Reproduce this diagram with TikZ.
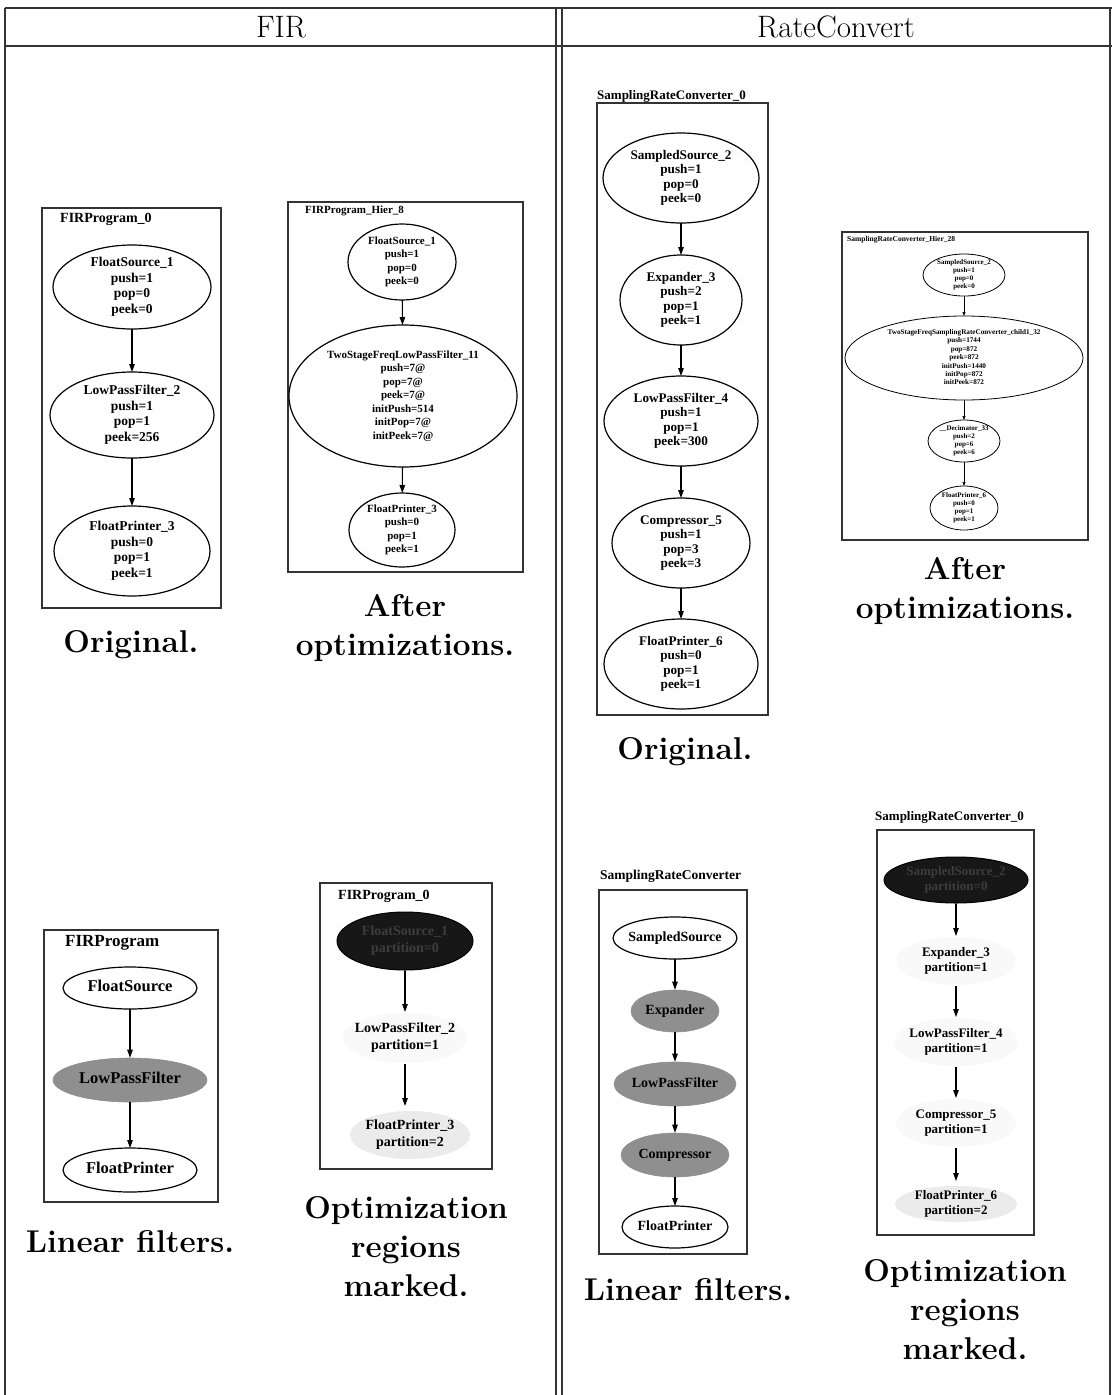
\documentclass[tikz,border=0pt]{standalone}
\usepackage{fontspec}
\newfontfamily\gvfont{Liberation Serif}
\usetikzlibrary{shapes.geometric,arrows.meta}
\newcommand\ml[1]{\smash{\raisebox{-0.25em}{\makebox[0pt]{\begin{tabular}{@{}c@{}}#1\end{tabular}}}}}
\newcommand\fs[2]{\fontsize{#1}{#2}\selectfont}
\definecolor{tabline}{gray}{0.2}
\definecolor{midfill}{gray}{0.56}
\definecolor{darkfill}{gray}{0.09}
\definecolor{darktext}{gray}{0.24}
\definecolor{lightfill}{gray}{0.92}
\definecolor{paleflll}{gray}{0.975}
\tikzset{
  ell/.style={ellipse, draw=black, line width=1.2pt, inner sep=0pt, outer sep=0pt},
  rad/.style 2 args={minimum width={2*(#1)*1pt}, minimum height={2*(#2)*1pt}},
  fnt/.style 2 args={font=\gvfont\bfseries\fontsize{#1}{#2}\selectfont},
  grayell/.style={ellipse, draw=midfill, fill=midfill, line width=0.6pt, inner sep=0pt},
  darkell/.style={ellipse, draw=black, fill=darkfill, text=darktext, line width=1pt, inner sep=0pt},
  lightell/.style={ellipse, fill=lightfill, inner sep=0pt, outer sep=5pt},
  paleell/.style={ellipse, fill=paleflll, inner sep=0pt, outer sep=1pt},
  arr/.style={-{Triangle[length=8pt,width=5.5pt]}, line width=1.1pt},
  tinyarr/.style={-{Triangle[length=4pt,width=3pt]}, line width=0.6pt},
  frame/.style={draw=tabline, line width=1.2pt},
  ttl/.style={anchor=west, inner sep=0pt},
  capt/.style={align=center, font=\fs{31.5}{39}\bfseries, inner sep=0pt},
  hdr/.style={font=\fs{31}{37}, inner sep=0pt},
  tab/.style={draw=tabline, line width=1.4pt}
}
\begin{document}
\begin{tikzpicture}[x=1pt,y=-1pt]
\fill[white] (0,0) rectangle (1112,1395);
\useasboundingbox (0,0) rectangle (1112,1395);
% table
\draw[tab] (5,8) -- (1112,8);
\draw[tab] (5,46) -- (1112,46);
\draw[tab] (5,8) -- (5,1395);
\draw[tab] (556,8) -- (556,1395);
\draw[tab] (562,8) -- (562,1395);
\draw[tab] (1110,8) -- (1110,1395);
\node[hdr] (hfir) at (281,27) {FIR};
\node[hdr] (hrc) at (836,27) {RateConvert};

% ---------- Panel 1: FIR original
\draw[frame] (42,208) rectangle (221,608);
\node[ttl, fnt={14}{16}] (t1) at (60,219) {FIRProgram\_0};
\node[ell, rad={79}{42}, fnt={13.5}{15.5}] (a1) at (132,287) {\ml{FloatSource\_1\\push=1\\pop=0\\peek=0}};
\node[ell, rad={82}{43}, fnt={13.5}{15.5}] (a2) at (132,415) {\ml{LowPassFilter\_2\\push=1\\pop=1\\peek=256}};
\node[ell, rad={78}{45}, fnt={13.5}{15.5}] (a3) at (132,551) {\ml{FloatPrinter\_3\\push=0\\pop=1\\peek=1}};
\draw[arr] (a1) -- (a2);
\draw[arr] (a2) -- (a3);
\node[capt] (c1) at (131,645) {Original.};

% ---------- Panel 2: FIR after
\draw[frame] (288,202) rectangle (523,572);
\node[ttl, fnt={11}{13}] (t2) at (305,211) {FIRProgram\_Hier\_8};
\node[ell, rad={54}{38}, fnt={11}{13.5}] (b1) at (402,262) {\ml{FloatSource\_1\\push=1\\pop=0\\peek=0}};
\node[ell, rad={114}{71}, fnt={11}{13.5}] (b2) at (403,396) {\ml{TwoStageFreqLowPassFilter\_11\\push=7@\\pop=7@\\peek=7@\\initPush=514\\initPop=7@\\initPeek=7@}};
\node[ell, rad={53}{37}, fnt={11}{13.5}] (b3) at (402,530) {\ml{FloatPrinter\_3\\push=0\\pop=1\\peek=1}};
\draw[arr] (b1) -- (b2);
\draw[arr] (b2) -- (b3);
\node[capt] (c2) at (405,628) {After\\optimizations.};

% ---------- Panel 3: RC original
\node[ttl, fnt={13}{15}] (t3) at (597,96) {SamplingRateConverter\_0};
\draw[frame] (597,103) rectangle (768,715);
\node[ell, rad={78}{45}, fnt={13.2}{14.5}] (r1) at (681,178) {\ml{SampledSource\_2\\push=1\\pop=0\\peek=0}};
\node[ell, rad={61}{45}, fnt={13.2}{14.5}] (r2) at (681,300) {\ml{Expander\_3\\push=2\\pop=1\\peek=1}};
\node[ell, rad={77}{45}, fnt={13.2}{14.5}] (r3) at (681,421) {\ml{LowPassFilter\_4\\push=1\\pop=1\\peek=300}};
\node[ell, rad={69}{45}, fnt={13.2}{14.5}] (r4) at (681,543) {\ml{Compressor\_5\\push=1\\pop=3\\peek=3}};
\node[ell, rad={77}{45}, fnt={13.2}{14.5}] (r5) at (681,664) {\ml{FloatPrinter\_6\\push=0\\pop=1\\peek=1}};
\draw[arr] (r1) -- (r2);
\draw[arr] (r2) -- (r3);
\draw[arr] (r3) -- (r4);
\draw[arr] (r4) -- (r5);
\node[capt] (c3) at (685,752) {Original.};

% ---------- Panel 4: RC after
\draw[frame] (842,232) rectangle (1088,540);
\node[ttl, fnt={7.5}{8}] (t4) at (847,240) {SamplingRateConverter\_Hier\_28};
\node[ell, line width=0.8pt, rad={41}{21}, fnt={7}{8.2}] (d1) at (964,275) {\ml{SampledSource\_2\\push=1\\pop=0\\peek=0}};
\node[ell, line width=0.8pt, rad={119}{42}, fnt={7.2}{8.4}] (d2) at (964,358) {\ml{TwoStageFreqSamplingRateConverter\_child1\_32\\push=1744\\pop=872\\peek=872\\initPush=1440\\initPop=872\\initPeek=872}};
\node[ell, line width=0.8pt, rad={36}{21}, fnt={7}{8.2}] (d3) at (964,441) {\ml{\_\_Decimator\_33\\push=2\\pop=6\\peek=6}};
\node[ell, line width=0.8pt, rad={34}{22}, fnt={7}{8.2}] (d4) at (964,508) {\ml{FloatPrinter\_6\\push=0\\pop=1\\peek=1}};
\draw[tinyarr] (d1) -- (d2);
\draw[tinyarr] (d2) -- (d3);
\draw[tinyarr] (d3) -- (d4);
\node[capt] (c4) at (965,591) {After\\optimizations.};

% ---------- Panel 5: FIR linear filters
\draw[frame] (44,930) rectangle (218,1202);
\node[ttl, fnt={17}{19}] (t5) at (65,943) {FIRProgram};
\node[ell, rad={67}{21}, fnt={16.5}{18}] (e1) at (130,988) {\ml{FloatSource}};
\node[grayell, rad={77}{22}, fnt={16.5}{18}] (e2) at (130,1080) {\ml{LowPassFilter}};
\node[ell, rad={67}{22}, fnt={16.5}{18}] (e3) at (130,1170) {\ml{FloatPrinter}};
\draw[arr] (e1) -- (e2);
\draw[arr] (e2) -- (e3);
\node[capt] (c5) at (130,1242) {Linear filters.};

% ---------- Panel 6: FIR regions
\draw[frame] (320,883) rectangle (492,1169);
\node[ttl, fnt={14}{16}] (t6) at (338,896) {FIRProgram\_0};
\node[darkell, rad={68}{29}, fnt={14}{17}] (f1) at (405,941) {\ml{FloatSource\_1\\partition=0}};
\node[paleell, rad={62}{25}, fnt={14}{17}] (f2) at (405,1038) {\ml{LowPassFilter\_2\\partition=1}};
\node[lightell, rad={60}{24}, fnt={14}{17}] (f3) at (410,1135) {\ml{FloatPrinter\_3\\partition=2}};
\draw[arr] (f1) -- (f2);
\draw[arr] (f2.south) -- (f2.south |- f3.north);
\node[capt] (c6) at (406,1247) {Optimization\\regions\\marked.};

% ---------- Panel 7: RC linear filters
\node[ttl, fnt={13.5}{15}] (t7) at (600,876) {SamplingRateConverter};
\draw[frame] (599,890) rectangle (747,1254);
\node[ell, rad={62}{21}, fnt={14}{16}] (g1) at (675,938) {\ml{SampledSource}};
\node[grayell, rad={44}{21}, fnt={14}{16}] (g2) at (675,1011) {\ml{Expander}};
\node[grayell, rad={61}{22}, fnt={14}{16}] (g3) at (675,1084) {\ml{LowPassFilter}};
\node[grayell, rad={54}{22}, fnt={14}{16}] (g4) at (675,1155) {\ml{Compressor}};
\node[ell, rad={53}{21}, fnt={14}{16}] (g5) at (675,1227) {\ml{FloatPrinter}};
\draw[arr] (g1) -- (g2);
\draw[arr] (g2) -- (g3);
\draw[arr] (g3) -- (g4);
\draw[arr] (g4) -- (g5);
\node[capt] (c7) at (688,1290) {Linear filters.};

% ---------- Panel 8: RC regions
\node[ttl, fnt={13}{15}] (t8) at (875,817) {SamplingRateConverter\_0};
\draw[frame] (877,830) rectangle (1034,1235);
\node[darkell, rad={72}{23}, fnt={13}{14.5}] (h1) at (956,880) {\ml{SampledSource\_2\\partition=0}};
\node[paleell, rad={60}{24}, fnt={13}{14.5}] (h2) at (956,961) {\ml{Expander\_3\\partition=1}};
\node[paleell, rad={62}{24}, fnt={13}{14.5}] (h3) at (956,1042) {\ml{LowPassFilter\_4\\partition=1}};
\node[paleell, rad={60}{24}, fnt={13}{14.5}] (h4) at (956,1123) {\ml{Compressor\_5\\partition=1}};
\node[lightell, rad={61}{18}, fnt={13}{14.5}] (h5) at (956,1204) {\ml{FloatPrinter\_6\\partition=2}};
\draw[arr] (h1) -- (h2);
\draw[arr] (h2) -- (h3);
\draw[arr] (h3) -- (h4);
\draw[arr] (h4) -- (h5);
\node[capt] (c8) at (965,1310) {Optimization\\regions\\marked.};
\end{tikzpicture}
\end{document}
